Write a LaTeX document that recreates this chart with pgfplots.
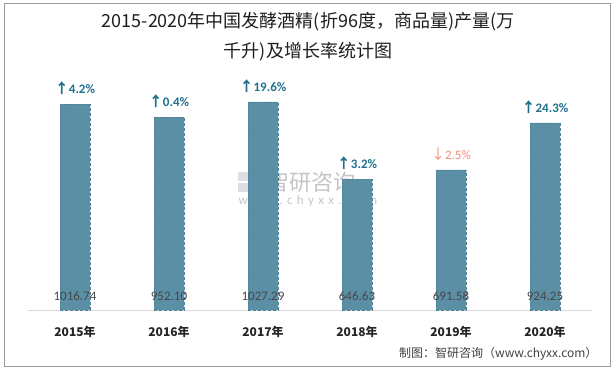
\documentclass[border=0pt]{standalone}
\usepackage{pgfplots}
\pgfplotsset{compat=1.18}
\usepackage{fontspec}
\setmainfont{Carlito}
\newfontfamily\cjk{Noto Sans CJK SC}
\definecolor{barc}{HTML}{5B8FA6}
\definecolor{bard}{HTML}{4F8299}
\definecolor{upc}{HTML}{1F6F8F}
\definecolor{dnc}{HTML}{F08A70}
\definecolor{wm}{HTML}{B8BEC6}
\begin{document}
\begin{tikzpicture}[x=1bp,y=1bp]
\useasboundingbox (0,0) rectangle (616,369);
\draw[color=black!40, line width=1bp] (4,3) rectangle (610,365.5);
\node[font=\cjk\fontsize{18bp}{22bp}\selectfont, text=black!88] at (308,347) {2015-2020年中国发酵酒精(折96度，商品量)产量(万};
\node[font=\cjk\fontsize{18bp}{22bp}\selectfont, text=black!88] at (308,317) {千升)及增长率统计图};
% watermark
\begin{scope}[opacity=0.5]
\fill[wm] (238,188) rectangle (249,197);
\fill[wm] (251,188) rectangle (262,197);
\fill[wm] (238,177) rectangle (249,186);
\fill[wm!70!blue] (251,177) rectangle (262,186);
\node[font=\cjk\fontsize{22bp}{24bp}\selectfont, text=black!45, anchor=west, inner sep=0pt] at (267,187) {智研咨询};
\node[font=\fontsize{13bp}{15bp}\selectfont, text=black!45, inner sep=0pt] at (308,168) {w\,\,w\,\,w\,\,.\,\,c\,\,h\,\,y\,\,x\,\,x\,\,.\,\,c\,\,o\,\,m};
\end{scope}
\begin{axis}[
  at={(28bp,59bp)}, anchor=south west,
  width=564bp, height=243bp, scale only axis,
  xmin=-0.5, xmax=5.5, ymin=0, ymax=1200,
  axis x line=bottom, axis y line=none,
  x axis line style={-, draw=black!15, line width=0.8bp},
  xtick={0,...,5},
  xticklabels={2015年,2016年,2017年,2018年,2019年,2020年},
  xticklabel style={font=\cjk\bfseries\fontsize{12bp}{14bp}\selectfont, text=black!85, yshift=-13bp},
  major tick length=0,
  clip=false,
]
\addplot[ybar, bar width=30bp, bar shift=0pt, fill=barc, draw=bard, densely dashed, line width=0.3bp]
  coordinates {(0,1016.74) (1,952.10) (2,1027.29) (3,646.63) (4,691.58) (5,924.25)};
\addplot[draw=none, mark=none, point meta=explicit symbolic,
  nodes near coords={\pgfplotspointmeta},
  nodes near coords style={anchor=center, inner sep=0pt, yshift=14bp, font=\fontsize{13bp}{15bp}\selectfont, text=black!72}]
  coordinates {(0,0)[1016.74] (1,0)[952.10] (2,0)[1027.29] (3,0)[646.63] (4,0)[691.58] (5,0)[924.25]};
\addplot[draw=none, mark=none, point meta=explicit symbolic,
  nodes near coords={{\cjk\fontsize{14bp}{15bp}\selectfont ↑}\pgfplotspointmeta},
  nodes near coords style={anchor=center, inner sep=0pt, yshift=16bp, font=\bfseries\fontsize{13bp}{15bp}\selectfont, text=upc}]
  coordinates {(0,1016.74)[4.2\%] (1,952.10)[0.4\%] (2,1027.29)[19.6\%] (3,646.63)[3.2\%] (5,924.25)[24.3\%]};
\addplot[draw=none, mark=none, point meta=explicit symbolic,
  nodes near coords={{\cjk\fontsize{14bp}{15bp}\selectfont ↓}\pgfplotspointmeta},
  nodes near coords style={anchor=center, inner sep=0pt, yshift=16bp, font=\fontsize{13bp}{15bp}\selectfont, text=dnc}]
  coordinates {(4,691.58)[2.5\%]};
\end{axis}
\node[font=\cjk\fontsize{12bp}{14bp}\selectfont, text=black!75, anchor=east] at (601,15) {制图：智研咨询（www.chyxx.com）};
\end{tikzpicture}
\end{document}
